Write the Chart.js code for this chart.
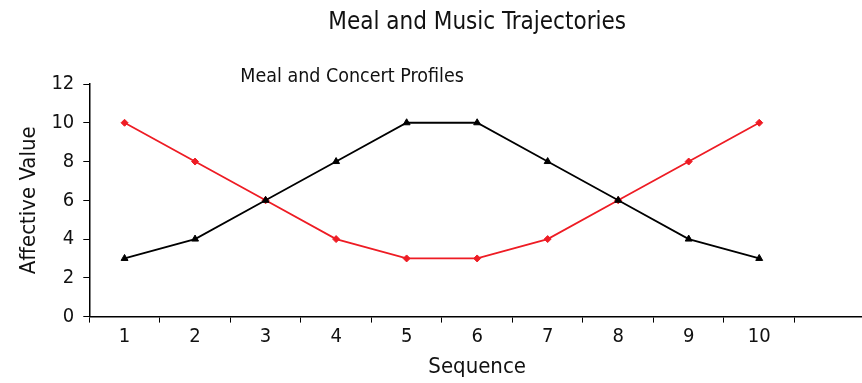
<!DOCTYPE html>
<html>
<head>
<meta charset="utf-8">
<script src="https://cdn.jsdelivr.net/npm/chart.js@4/dist/chart.umd.min.js"></script>
<style>
  html, body { margin: 0; padding: 0; background: #fff; overflow: hidden; }
  #wrap { width: 870px; height: 383px; }
</style>
</head>
<body>
<div id="wrap"><canvas id="chart1"></canvas></div>
<script>
// data
const sequence = ['1', '2', '3', '4', '5', '6', '7', '8', '9', '10', ''];
const mealValues = [3, 4, 6, 8, 10, 10, 8, 6, 4, 3];
const concertValues = [10, 8, 6, 4, 3, 3, 4, 6, 8, 10];
const yTicks = [0, 2, 4, 6, 8, 10, 12];

const fontFamily = "'Liberation Sans Narrow', 'DejaVu Sans Condensed', Arial, sans-serif";

// main title centred over the plot area, and the caption inside it
const chartTexts = {
  id: 'chartTexts',
  afterDraw(chart) {
    const ctx = chart.ctx;
    const area = chart.chartArea;
    ctx.save();
    ctx.fillStyle = '#111';
    ctx.textBaseline = 'middle';

    ctx.font = '24px ' + fontFamily;
    ctx.textAlign = 'center';
    ctx.fillText('Meal and Music Trajectories', (area.left + area.right) / 2, 23);

    ctx.font = '19.5px ' + fontFamily;
    ctx.textAlign = 'left';
    ctx.fillText('Meal and Concert Profiles', area.left + 151, area.top - 7);
    ctx.restore();
  }
};

const ctx = document.getElementById('chart1').getContext('2d');
const chart1 = new Chart(ctx, {
  type: 'line',
  data: {
    labels: sequence,
    datasets: [{
      label: 'Meal',
      data: mealValues,
      borderColor: '#000',
      backgroundColor: '#000',
      borderWidth: 1.8,
      pointStyle: 'triangle',
      pointRadius: 4,
      pointBorderWidth: 1,
      tension: 0
    }, {
      label: 'Concert',
      data: concertValues,
      borderColor: '#ee1c24',
      backgroundColor: '#ee1c24',
      borderWidth: 1.8,
      pointStyle: 'rectRot',
      pointRadius: 3.5,
      pointBorderWidth: 1,
      tension: 0
    }]
  },
  options: {
    responsive: true,
    maintainAspectRatio: false,
    animation: false,
    layout: { padding: { top: 84, right: 0, left: 16, bottom: 3 } },
    plugins: {
      legend: { display: false },
      tooltip: { enabled: false },
      title: { display: false }
    },
    scales: {
      x: {
        offset: true,
        grid: {
          display: true,
          offset: true,
          drawOnChartArea: false,
          drawTicks: true,
          tickLength: 6,
          color: '#000'
        },
        border: { color: '#000', width: 1.5 },
        ticks: {
          color: '#111',
          padding: 2,
          font: { family: fontFamily, size: 20 }
        },
        title: {
          display: true,
          text: 'Sequence',
          color: '#111',
          padding: { top: 3, bottom: 0 },
          font: { family: fontFamily, size: 22 }
        }
      },
      y: {
        min: 0,
        max: 12,
        afterBuildTicks(axis) {
          axis.ticks = yTicks.map(v => ({ value: v }));
        },
        grid: {
          display: true,
          drawOnChartArea: false,
          drawTicks: true,
          tickLength: 6,
          color: '#000'
        },
        border: { color: '#000', width: 1.5 },
        ticks: {
          color: '#111',
          padding: 9,
          font: { family: fontFamily, size: 20 }
        },
        title: {
          display: true,
          text: 'Affective Value',
          color: '#111',
          padding: { top: 0, bottom: 0 },
          font: { family: fontFamily, size: 22 }
        }
      }
    }
  },
  plugins: [chartTexts]
});
</script>
</body>
</html>
